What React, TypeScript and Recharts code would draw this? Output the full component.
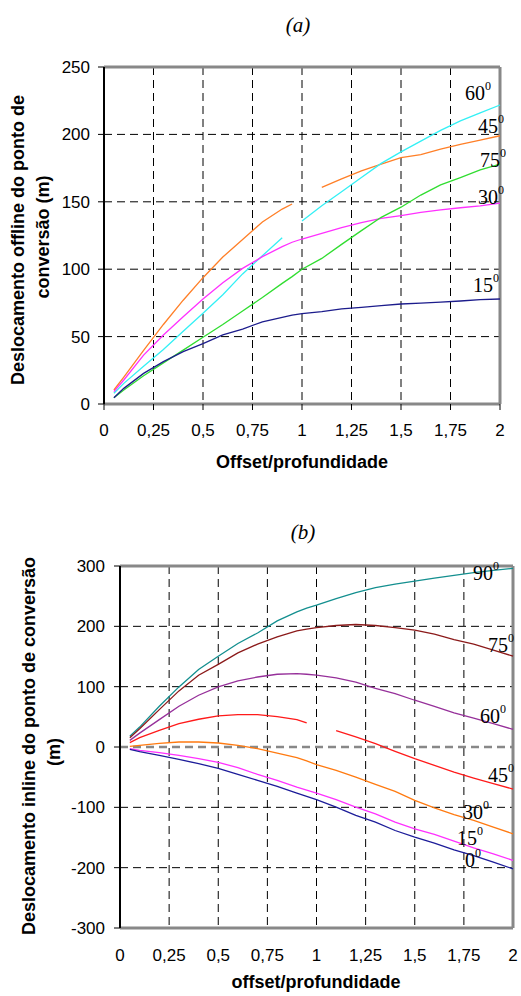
import { LineChart, Line, XAxis, YAxis, CartesianGrid, ReferenceLine } from "recharts";

// shared x positions (offset / depth)
const xValues = [0.05, 0.1, 0.2, 0.3, 0.4, 0.5, 0.6, 0.7, 0.8, 0.9, 0.95, 1.0, 1.1, 1.2, 1.3, 1.4, 1.5, 1.6, 1.7, 1.8, 1.9, 2.0];
const xTicks = [0, 0.25, 0.5, 0.75, 1, 1.25, 1.5, 1.75, 2];

// (a) offline displacement
const off15 = [4.7, 11.6, 22.7, 31.4, 38.8, 44.8, 51.2, 55.6, 61, 64.3, 66, 67, 68.5, 70.5, 71.7, 73, 74.2, 74.9, 75.6, 76.4, 77.4, 77.9];
const off30 = [9.2, 17.8, 36.3, 51.2, 64.8, 77.9, 90, 100.6, 109.3, 116.7, 120, 122.4, 126.6, 130.8, 134.5, 137.7, 139.7, 142.2, 144, 145.6, 147, 149];
const off45 = [10.4, 20, 39.8, 59, 77, 93.7, 109, 122, 135, 144.6, 148.4, null, 160.7, 167, 173, 178, 182.7, 185, 189, 192.6, 195.8, 199];
const off60 = [8, 15.3, 28, 40.5, 54, 67.3, 81, 96.5, 110, 123.4, null, 135.8, 147, 157.5, 168, 178.5, 187, 195, 203, 210, 216, 221.8];
const off75 = [4.7, 10.4, 21, 30.5, 40, 49.5, 59, 69, 79, 89.5, 94.5, 100, 108, 118.4, 128.6, 138.5, 146, 155, 162.5, 168, 173.6, 178];
const offTicks = [0, 50, 100, 150, 200, 250];

// (b) inline displacement
const in0 = [-3.9, -7.7, -13.8, -20.5, -27.7, -35.4, -45.4, -55.3, -65.3, -76.4, -82, -87.4, -99.6, -113.4, -124.5, -138.4, -149.4, -159.4, -170.5, -180, -191, -202];
const in15 = [-2.8, -5.5, -9.4, -13.8, -19.4, -25.5, -34.3, -45.4, -55.3, -66.4, -71.4, -76.4, -87.4, -99.6, -110.7, -124.5, -135.6, -145, -156, -167, -177, -188];
const in30 = [1.1, 2.8, 6.1, 8.3, 8.3, 6.6, 2.8, -2.8, -10, -17.7, -23, -29.3, -38.7, -49.8, -62, -73.6, -88.5, -101, -112, -121.7, -132.8, -143.9];
const in45 = [7.2, 15.5, 27.7, 38.7, 46, 51.5, 53.7, 53.7, 50.4, 45.4, 39.8, null, 27.1, 16.6, 5.5, -7.2, -19.4, -30.4, -41.5, -51.5, -60.9, -69.7];
const in60 = [11, 23, 45.4, 67.5, 85.8, 99.6, 109.6, 116, 120.6, 121.7, 120.6, 119, 114.6, 107.4, 97, 88.5, 77.5, 67.5, 56.4, 48, 38.7, 29.3];
const in75 = [15.5, 30.4, 62, 93, 119, 137, 156, 170.5, 182.6, 192.6, 195.5, 198, 201.4, 203, 201.4, 198, 193.7, 187, 178, 170.5, 160.5, 150.5];
const in90 = [17.7, 33, 67.5, 99.6, 128.4, 150.5, 171.5, 189, 209, 224, 230, 235, 246, 256, 264, 270, 275, 280, 284.5, 289, 292.7, 296];
const inTicks = [-300, -200, -100, 0, 100, 200, 300];

const dataA = xValues.map((x, i) => ({ x, a15: off15[i], a30: off30[i], a45: off45[i], a60: off60[i], a75: off75[i] }));
const dataB = xValues.map((x, i) => ({ x, b0: in0[i], b15: in15[i], b30: in30[i], b45: in45[i], b60: in60[i], b75: in75[i], b90: in90[i] }));

const seriesA = [
  { key: "a45", color: "#ff7f27" },
  { key: "a60", color: "#33f0f5" },
  { key: "a30", color: "#ff30ff" },
  { key: "a75", color: "#30dd30" },
  { key: "a15", color: "#1c1c8c" },
];
const seriesB = [
  { key: "b90", color: "#138f8f" },
  { key: "b75", color: "#8b1a1a" },
  { key: "b60", color: "#96309a" },
  { key: "b45", color: "#ff1a1a" },
  { key: "b30", color: "#ff7a10" },
  { key: "b15", color: "#ff30ff" },
  { key: "b0", color: "#1c1c99" },
];

const sans = "'Liberation Sans', Arial, sans-serif";
const serif = "'Liberation Serif', 'Times New Roman', serif";
const tickStyle = { fill: "#000", fontSize: 17, fontFamily: sans };
const fmt = (v: number) => String(v).replace(".", ",");

// curve labels: [text, x, baseline]
const labelsA: [string, number, number][] = [
  ["60", 465, 100],
  ["45", 478, 133],
  ["75", 480, 167],
  ["30", 478, 204],
  ["15", 473, 292],
];
const labelsB: [string, number, number][] = [
  ["90", 473, 580],
  ["75", 488, 652],
  ["60", 480, 723],
  ["45", 488, 782],
  ["30", 463, 819],
  ["15", 457, 845],
  ["0", 465, 867],
];

function Degree({ t, x, y }: { t: string; x: number; y: number }) {
  return (
    <text x={x} y={y} fontFamily={serif} fontSize={20} fill="#000">
      {t}
      <tspan fontSize={12} dy={-10}>0</tspan>
    </text>
  );
}

export default function App() {
  return (
    <div style={{ position: "absolute", left: 0, top: 0, width: 521, height: 996, background: "#fff" }}>
      <div style={{ position: "absolute", left: 0, top: 0 }}>
        <LineChart width={521} height={480} data={dataA} margin={{ top: 67, right: 21, left: 54, bottom: 46 }}>
          <CartesianGrid stroke="#000" strokeDasharray="8 5" horizontalValues={[0, 50, 100, 150, 200]} verticalValues={[0.25, 0.5, 0.75, 1, 1.25, 1.5, 1.75]} />
          <XAxis
            dataKey="x"
            type="number"
            domain={[0, 2]}
            ticks={xTicks}
            tickFormatter={fmt}
            tick={tickStyle}
            tickSize={6}
            tickMargin={14}
            height={30}
            stroke="#888"
            axisLine={{ stroke: "#888", strokeWidth: 3 }}
            tickLine={{ stroke: "#000" }}
          />
          <YAxis
            type="number"
            domain={[0, 250]}
            ticks={offTicks}
            tick={tickStyle}
            width={50}
            tickSize={6}
            tickMargin={8}
            axisLine={{ stroke: "#000", strokeWidth: 2 }}
            tickLine={{ stroke: "#000" }}
          />
          <ReferenceLine y={250} stroke="#888" strokeWidth={3} />
          <ReferenceLine x={2} stroke="#888" strokeWidth={3} />
          {seriesA.map((s) => (
            <Line key={s.key} dataKey={s.key} stroke={s.color} strokeWidth={1.3} dot={false} type="linear" connectNulls={false} isAnimationActive={false} />
          ))}
        </LineChart>
      </div>
      <div style={{ position: "absolute", left: 0, top: 500 }}>
        <LineChart width={521} height={496} data={dataB} margin={{ top: 66, right: 8, left: 70, bottom: 38 }}>
          <CartesianGrid stroke="#000" strokeDasharray="8 5" horizontalValues={[-200, -100, 100, 200]} verticalValues={[0.25, 0.5, 0.75, 1, 1.25, 1.5, 1.75]} />
          <XAxis
            dataKey="x"
            type="number"
            domain={[0, 2]}
            ticks={xTicks}
            tickFormatter={fmt}
            tick={tickStyle}
            tickSize={0}
            tickMargin={21}
            height={30}
            axisLine={{ stroke: "#888", strokeWidth: 3 }}
          />
          <YAxis
            type="number"
            domain={[-300, 300]}
            ticks={inTicks}
            tick={tickStyle}
            width={50}
            tickSize={6}
            tickMargin={9}
            axisLine={{ stroke: "#000", strokeWidth: 2 }}
            tickLine={{ stroke: "#000" }}
          />
          <ReferenceLine y={0} stroke="#888" strokeWidth={2.5} strokeDasharray="8 5" />
          <ReferenceLine y={300} stroke="#888" strokeWidth={3} />
          <ReferenceLine x={2} stroke="#888" strokeWidth={3} />
          {seriesB.map((s) => (
            <Line key={s.key} dataKey={s.key} stroke={s.color} strokeWidth={1.3} dot={false} type="linear" connectNulls={false} isAnimationActive={false} />
          ))}
        </LineChart>
      </div>
      <svg width={521} height={996} style={{ position: "absolute", left: 0, top: 0, pointerEvents: "none" }}>
        <text x={298} y={32} textAnchor="middle" fontFamily={serif} fontStyle="italic" fontSize={21}>(a)</text>
        <text x={303} y={539} textAnchor="middle" fontFamily={serif} fontStyle="italic" fontSize={21}>(b)</text>
        <text x={302} y={468} textAnchor="middle" fontFamily={sans} fontWeight="bold" fontSize={18}>Offset/profundidade</text>
        <text x={316} y={988} textAnchor="middle" fontFamily={sans} fontWeight="bold" fontSize={18}>offset/profundidade</text>
        <g fontFamily={sans} fontWeight="bold" fontSize={18} textAnchor="middle">
          <text transform="translate(24,240) rotate(-90)">Deslocamento offline do ponto de</text>
          <text transform="translate(49,237) rotate(-90)">conversão (m)</text>
          <text transform="translate(35,746) rotate(-90)">Deslocamento inline do ponto de conversão</text>
          <text transform="translate(60,752) rotate(-90)">(m)</text>
        </g>
        {labelsA.map(([t, x, y]) => (
          <Degree key={"a" + t} t={t} x={x} y={y} />
        ))}
        {labelsB.map(([t, x, y]) => (
          <Degree key={"b" + t} t={t} x={x} y={y} />
        ))}
      </svg>
    </div>
  );
}
